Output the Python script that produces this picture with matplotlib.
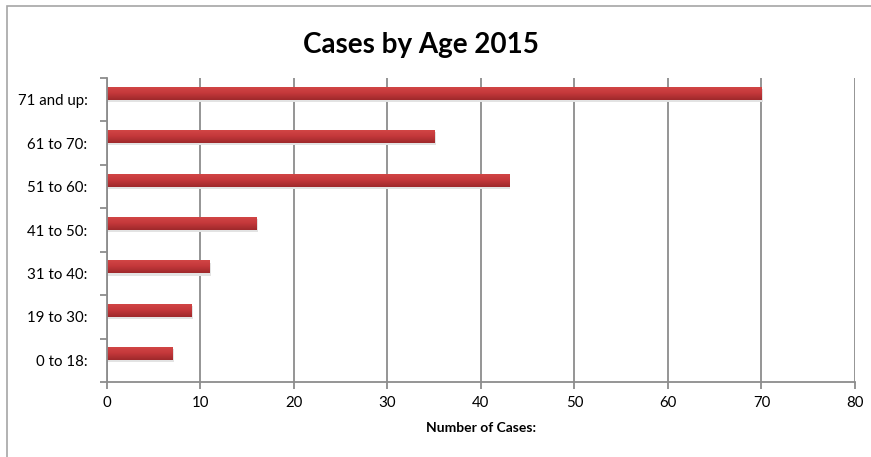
import numpy as np
import matplotlib.pyplot as plt
from matplotlib.patches import Rectangle

plt.rcParams['font.family'] = ['Lato', 'DejaVu Sans']

# datos del grafico
edades = ["0 to 18:", "19 to 30:", "31 to 40:", "41 to 50:", "51 to 60:", "61 to 70:", "71 and up:"]
casos = [7, 9, 11, 16, 43, 35, 70]
ticks_x = [0, 10, 20, 30, 40, 50, 60, 70, 80]

fig = plt.figure(figsize=(8.71, 4.57), dpi=100)
ax = fig.add_axes([0.1228, 0.1641, 0.8588, 0.6652])

# marco exterior del grafico
fig.patches.append(Rectangle((7/871, -0.1), 1.2, 1 - 6/457 + 0.1, transform=fig.transFigure,
                             fill=False, edgecolor='#a6a6a6', linewidth=1.2))

pos = np.arange(len(edades))
desfase = 0.15
alto = 0.3

# sombra
ax.barh(pos + desfase - 0.05, casos, height=alto, left=0.15, color='#e3e3e3', zorder=2,
        linewidth=0)
barras = ax.barh(pos + desfase, casos, height=alto, color='#c0393b', zorder=3, linewidth=0)

# degradado vertical en cada barra
grad = np.linspace(0, 1, 64).reshape(-1, 1)
top = np.array([0.83, 0.28, 0.28])
mid = np.array([0.77, 0.22, 0.23])
bot = np.array([0.62, 0.16, 0.17])
cols = np.where(grad[..., None] < 0.5,
                top + (mid - top) * (grad[..., None] / 0.5),
                mid + (bot - mid) * ((grad[..., None] - 0.5) / 0.5))
for b in barras:
    x0, y0 = b.get_x(), b.get_y()
    w, h = b.get_width(), b.get_height()
    im = ax.imshow(cols, extent=[x0, x0 + w, y0, y0 + h], aspect='auto', zorder=4,
                   origin='upper')
    im.set_clip_path(b)

ax.set_xlim(0, 80)
ax.set_ylim(-0.5, len(edades) - 0.5)
ax.set_xticks(ticks_x)
ax.set_yticks(pos)
ax.set_yticklabels(edades)
ax.set_yticks(np.arange(len(edades) + 1) - 0.5, minor=True)

ax.grid(axis='x', color='#8c8c8c', linewidth=1.3, zorder=1)
ax.set_axisbelow(True)

for s in ['top', 'right']:
    ax.spines[s].set_visible(False)
for s in ['left', 'bottom']:
    ax.spines[s].set_color('#8c8c8c')
    ax.spines[s].set_linewidth(1.3)
    ax.spines[s].set_zorder(5)

ax.tick_params(axis='y', which='major', length=0, pad=14, labelsize=10.8)
ax.tick_params(axis='y', which='minor', length=5, direction='out', color='#8c8c8c', width=1.3)
ax.tick_params(axis='x', length=5, direction='out', color='#8c8c8c', width=1.3, pad=5,
               labelsize=10.8)

ax.set_xlabel("Number of Cases:", fontsize=10, fontweight='bold', labelpad=9)
fig.text(421/871, 1 - 45/457, "Cases by Age 2015", fontsize=20, fontweight='bold',
         ha='center', va='center')

plt.savefig("out.png", dpi=100)
